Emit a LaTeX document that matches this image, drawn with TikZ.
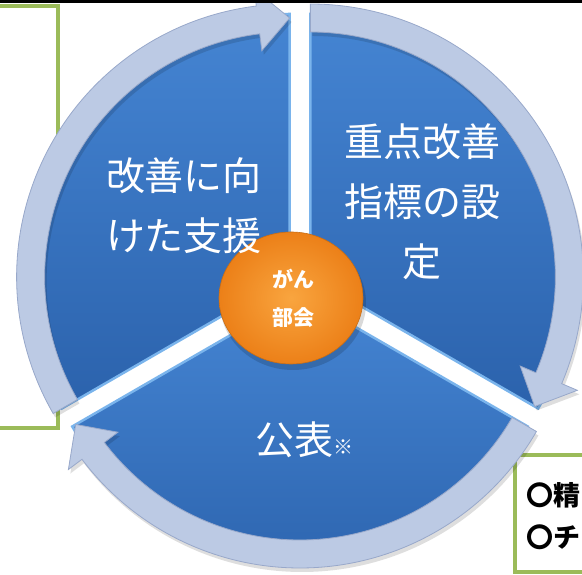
\documentclass[tikz,border=0pt]{standalone}
\usepackage{fontspec}
\newfontfamily\jp{Noto Sans CJK JP}
\usetikzlibrary{shapes.geometric}
\definecolor{bandfill}{HTML}{BCCAE4}
\definecolor{bandedge}{HTML}{98A8CA}
\definecolor{bluetop}{HTML}{4585D3}
\definecolor{bluebot}{HTML}{2B62AC}
\definecolor{blueedge}{HTML}{7AB4EC}
\definecolor{boxgreen}{HTML}{9BBB59}
\definecolor{orin}{HTML}{F9A53F}
\definecolor{orout}{HTML}{EC8018}
\tikzset{
  bandstyle/.style={fill=bandfill, draw=bandedge, line width=0.8},
  shadowstyle/.style={fill=black, opacity=0.13},
  wedgestyle/.style={draw=blueedge, line width=2.5, top color=bluetop, bottom color=bluebot},
  bigtext/.style={text=white, align=center, font=\jp\fontsize{39}{60}\selectfont},
  hubtext/.style={text=white, font=\jp\bfseries\fontsize{21}{24}\selectfont},
  boxtext/.style={text=black, anchor=west, inner sep=0, font=\jp\bfseries\fontsize{27}{30}\selectfont},
  greenbox/.style={draw=boxgreen, line width=4.5},
}
% #1 bisector angle, #2 counter-clockwise end angle, #3 clockwise end angle (arrow tip)
\newcommand\segment[3]{%
\begin{scope}[shift={(300,292)}, shift={(#1:12)}]
  \filldraw[wedgestyle] (0,0) -- (#3:263) arc[start angle=#3, end angle=#2, radius=263] -- cycle;
  \begin{scope}[shift={(2,-4)}]
    \fill[shadowstyle] (#2:273) arc[start angle=#2, end angle=#3+7, radius=273] -- (#3+7:290) -- (#3:259) -- (#3+7:228) -- (#3+7:245) arc[start angle=#3+7, end angle=#2, radius=245] -- cycle;
  \end{scope}
  \filldraw[bandstyle] (#2:273) arc[start angle=#2, end angle=#3+7, radius=273] -- (#3+7:290) -- (#3:259) -- (#3+7:228) -- (#3+7:245) arc[start angle=#3+7, end angle=#2, radius=245] -- cycle;
\end{scope}}
\begin{document}
\begin{tikzpicture}[x=1pt, y=1pt]
\useasboundingbox (0,0) rectangle (582,575);
\fill[white] (0,0) rectangle (582,575);
% green frames
\draw[greenbox] (-10,147) rectangle (58,569);
\draw[greenbox] (515,3) rectangle (600,120);
% segments
\segment{30}{90}{-30}
\segment{270}{330}{210}
\segment{150}{210}{90}
% hub
\fill[black, opacity=0.15] (293,272) ellipse[x radius=73, y radius=67];
\node (hub) [ellipse, minimum width=144, minimum height=132, inner sep=0, inner color=orin, outer color=orout, draw=orout!85!black, line width=0.6] at (291,277) {};
\node (hubA) [hubtext] at (293,296) {がん};
\node (hubB) [hubtext] at (293,257) {部会};
% segment texts
\node (tleft) [bigtext] at (184,369) {改善に向\\けた支援};
\node (tright) [bigtext] at (422,373) {重点改善\\指標の設\\定};
\node (tbottom) [text=white, font=\jp\fontsize{39}{46}\selectfont] at (304,135) {公表{\fontsize{20}{24}\selectfont ※}};
% right box text
\node (boxA) [boxtext] at (526,80) {〇精};
\node (boxB) [boxtext] at (526,38) {〇チ};
% top bar
\fill[black] (0,572) rectangle (582,575);
\end{tikzpicture}
\end{document}
